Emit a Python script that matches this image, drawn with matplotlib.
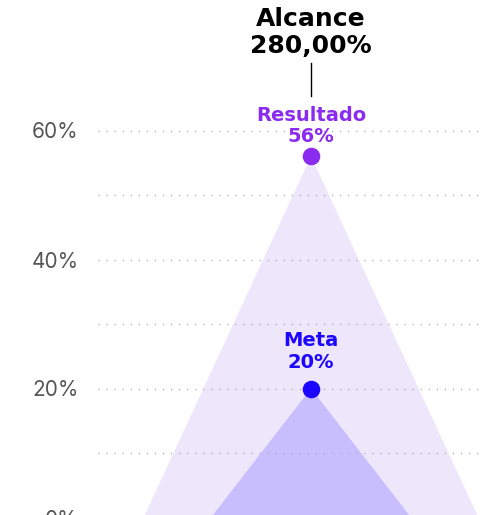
import numpy as np
import matplotlib
matplotlib.use("Agg")
import matplotlib.pyplot as plt
from matplotlib.ticker import FixedLocator, FuncFormatter

# values
meta_label = "Meta"
meta_value = 20
resultado_label = "Resultado"
resultado_value = 56
alcance_label = "Alcance"
alcance_text = "280,00%"
y_major_ticks = [0, 20, 40, 60]
y_minor_ticks = [10, 30, 50]

# styling
outer_color = "#EEE6FB"
inner_color = "#C8BDFD"
resultado_color = "#8A2BEF"
meta_color = "#1C06FF"
tick_color = "#555555"
grid_color = "#A8A8A8"
width_scale = 0.105  # triangle half-width per sqrt(percentage point)

W, H, DPI = 480, 515, 100
fig = plt.figure(figsize=(W / DPI, H / DPI), dpi=DPI)
ax_left = 98 / W
ax_bottom = -2.5 / H
ax_height = 516 / H
ax = fig.add_axes([ax_left, ax_bottom, 1 - ax_left, ax_height])
ax.set_xlim(-1.0, 0.7934)
ax.set_ylim(0, 80)

center = 0.0


def triangle(value, color, z):
    half = width_scale * np.sqrt(value)
    xs = [center - half, center, center + half]
    ys = [0, value, 0]
    ax.fill(xs, ys, color=color, lw=0, zorder=z)


triangle(resultado_value, outer_color, 1)
triangle(meta_value, inner_color, 2)

# dotted reference lines
for v in y_minor_ticks + y_major_ticks[1:]:
    ax.axhline(v, color=grid_color, lw=1.0, linestyle=(0, (0.8, 5.0)),
               zorder=3)

# value markers
ax.scatter([center], [resultado_value], s=160, color=resultado_color,
           zorder=5, linewidths=0)
ax.scatter([center], [meta_value], s=160, color=meta_color,
           zorder=5, linewidths=0)

bold = dict(family="DejaVu Sans", fontweight="bold", ha="center",
            va="baseline", linespacing=1.15)

ax.annotate(f"{resultado_label}\n{resultado_value}%",
            xy=(center, resultado_value), xytext=(0, 14),
            textcoords="offset pixels", fontsize=14,
            color=resultado_color, annotation_clip=False, **bold)
ax.annotate(f"{meta_label}\n{meta_value}%",
            xy=(center, meta_value), xytext=(0, 21),
            textcoords="offset pixels", fontsize=14,
            color=meta_color, annotation_clip=False, **bold)

# connector and headline above the result
trans = ax.transData
x0, y0 = trans.transform((center, resultado_value))
inv = trans.inverted()
_, y_lo = inv.transform((x0, y0 + 60))
_, y_hi = inv.transform((x0, y0 + 93))
ax.plot([center, center], [y_lo, y_hi], color="black", lw=1.0,
        clip_on=False, zorder=6)
ax.annotate(f"{alcance_label}\n{alcance_text}",
            xy=(center, resultado_value), xytext=(0, 103),
            textcoords="offset pixels", fontsize=18,
            color="black", annotation_clip=False, **bold)

# axes styling
ax.yaxis.set_major_locator(FixedLocator(y_major_ticks))
ax.yaxis.set_major_formatter(FuncFormatter(lambda v, p: f"{v:.0f}%"))
ax.tick_params(axis="y", length=0, pad=14, labelsize=15,
               labelcolor=tick_color)
for lbl in ax.get_yticklabels():
    lbl.set_family("Inter")
ax.set_xticks([])
for s in ax.spines.values():
    s.set_visible(False)
ax.patch.set_alpha(0)

fig.savefig("out.png", dpi=DPI)
